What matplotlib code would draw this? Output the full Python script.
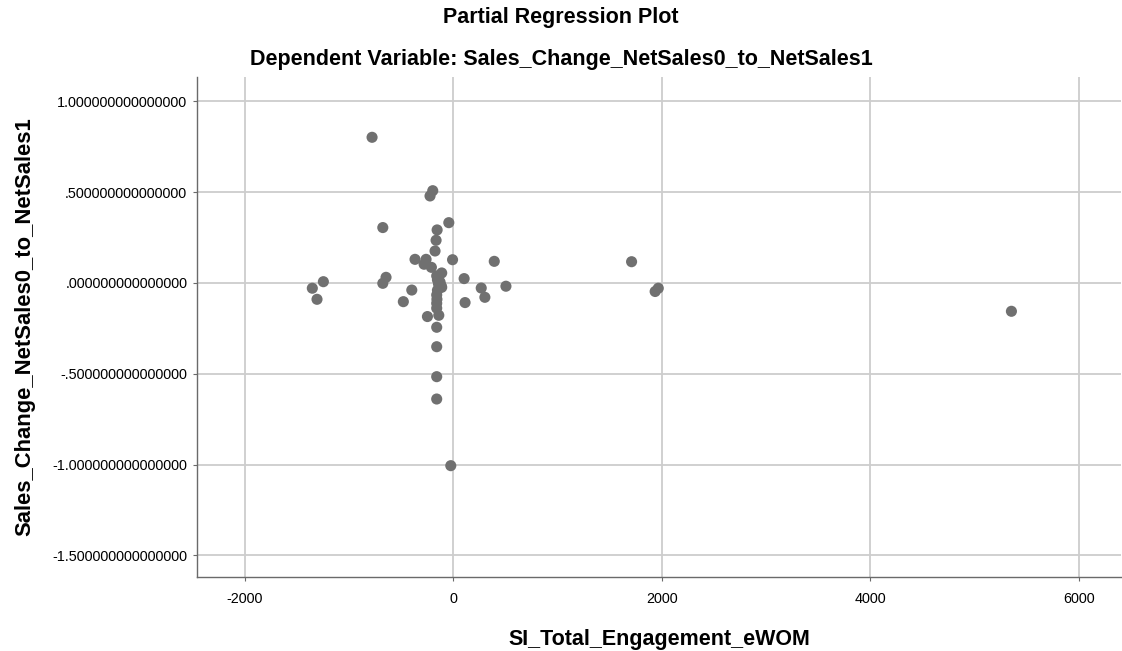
import matplotlib
matplotlib.use('Agg')
import matplotlib.pyplot as plt

# ---- data ----
x_vals = [-777, -674, -1244, -1350, -1305, -643, -674, -365, -396, -477,
          -195, -221, -41, -153, -163, -173, -259, -278, -208, -5,
          395, -109, -157, 106, -150, -125, -140, -115, -109, -150,
          270, 507, 305, 115, -157, -155, -157, -157, -246, -137,
          -157, -157, -157, -157, -22, 1712, 1938, 1968, 5355]
y_vals = [0.802, 0.305, 0.007, -0.029, -0.090, 0.031, -0.002, 0.130, -0.039, -0.103,
          0.508, 0.479, 0.332, 0.292, 0.235, 0.176, 0.130, 0.103, 0.086, 0.128,
          0.119, 0.055, 0.039, 0.024, 0.017, 0.005, -0.005, -0.015, -0.024, -0.040,
          -0.028, -0.018, -0.079, -0.108, -0.066, -0.090, -0.112, -0.139, -0.185, -0.178,
          -0.244, -0.351, -0.516, -0.639, -1.006, 0.117, -0.047, -0.029, -0.156]

x_ticks = [-2000, 0, 2000, 4000, 6000]
x_tick_labels = ['-2000', '0', '2000', '4000', '6000']
y_ticks = [1.0, 0.5, 0.0, -0.5, -1.0, -1.5]
y_tick_labels = ['1.000000000000000', '.500000000000000', '.000000000000000',
                 '-.500000000000000', '-1.000000000000000', '-1.500000000000000']

title_text = 'Partial Regression Plot'
subtitle_text = 'Dependent Variable: Sales_Change_NetSales0_to_NetSales1'
x_label = 'SI_Total_Engagement_eWOM'
y_label = 'Sales_Change_NetSales0_to_NetSales1'

plt.rcParams['font.family'] = ['Liberation Sans', 'DejaVu Sans']

W, H = 1122, 651
fig = plt.figure(figsize=(W / 100, H / 100), dpi=100)
fig.patch.set_facecolor('white')

left, right, top, bottom = 197, 1121, 77, 577
ax = fig.add_axes([left / W, (H - bottom) / H, (right - left) / W, (bottom - top) / H])

ax.scatter(x_vals, y_vals, s=64, color='#707070', edgecolors='none', zorder=3)

ax.set_xlim(-2456, 6406)
ax.set_ylim(-1.619, 1.134)
ax.set_xticks(x_ticks)
ax.set_xticklabels(x_tick_labels)
ax.set_yticks(y_ticks)
ax.set_yticklabels(y_tick_labels)

ax.set_axisbelow(True)
ax.grid(True, color='#cdcdcd', linewidth=1.3)
for s in ['top', 'right']:
    ax.spines[s].set_visible(False)
for s in ['left', 'bottom']:
    ax.spines[s].set_color('#6a6a6a')
    ax.spines[s].set_linewidth(1.0)

ax.tick_params(axis='both', length=3, color='#6a6a6a', labelsize=10.4, labelcolor='black')
ax.tick_params(axis='y', pad=4)
ax.tick_params(axis='x', pad=8)

ax.set_xlabel(x_label, fontsize=15.5, fontweight='bold', labelpad=16)
ax.set_ylabel(y_label, fontsize=15.8, fontweight='bold', labelpad=12)

fig.text(0.5, 1 - 18 / H, title_text, ha='center', va='center', fontsize=15.5, fontweight='bold')
fig.text(0.5, 1 - 60 / H, subtitle_text, ha='center', va='center', fontsize=15.5, fontweight='bold')

fig.savefig('out.png', dpi=100, facecolor='white')
